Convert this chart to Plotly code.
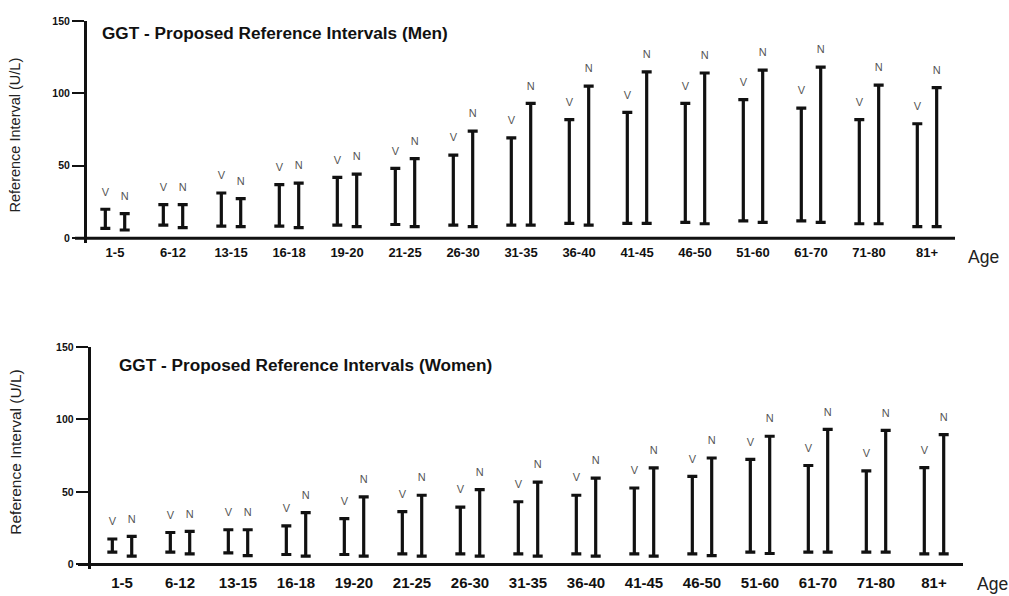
import plotly.graph_objects as go

# Age groups shown on both panels
age_groups = ["1-5", "6-12", "13-15", "16-18", "19-20", "21-25", "26-30", "31-35",
              "36-40", "41-45", "46-50", "51-60", "61-70", "71-80", "81+"]

# Men: reference interval limits (U/L), V and N methods
men_v_low = [6.8, 9.0, 8.4, 8.4, 9.0, 9.5, 9.0, 9.0, 10.2, 10.2, 10.9, 12.0, 12.0, 10.0, 8.0]
men_v_high = [20.0, 23.2, 31.2, 37.0, 42.0, 48.2, 57.3, 69.3, 81.8, 86.8, 93.0, 95.7, 89.8, 81.8, 79.0]
men_n_low = [5.7, 7.3, 8.0, 7.3, 8.0, 8.0, 8.0, 9.0, 9.0, 10.2, 10.0, 10.9, 10.9, 10.0, 8.0]
men_n_high = [17.0, 23.2, 27.3, 38.0, 44.3, 55.0, 73.9, 93.0, 105.0, 114.8, 114.0, 116.0, 118.0, 105.7, 103.9]

# Women: reference interval limits (U/L), V and N methods
women_v_low = [8.4, 8.4, 8.0, 6.8, 6.8, 7.3, 7.3, 7.3, 7.3, 7.3, 7.3, 8.4, 8.4, 8.4, 7.3]
women_v_high = [17.5, 22.0, 23.9, 26.6, 31.6, 36.4, 39.5, 43.2, 47.7, 52.7, 60.7, 72.5, 68.2, 64.5, 66.8]
women_n_low = [5.7, 7.3, 6.1, 5.7, 5.7, 5.7, 5.7, 5.7, 5.7, 5.7, 6.1, 7.5, 8.4, 8.4, 7.3]
women_n_high = [19.3, 22.7, 23.9, 35.7, 46.6, 47.7, 51.6, 56.8, 59.5, 66.6, 73.4, 88.4, 93.2, 92.5, 89.5]

W, H = 1009, 596
FONT = "Liberation Sans, Arial, sans-serif"
OFFSET = 0.167  # horizontal shift of V / N bars within a group

fig = go.Figure()


def px_x(p):
    return p / W


def px_y(p):
    return 1 - p / H


def add_panel(lows_v, highs_v, lows_n, highs_n, xa, ya):
    idx = list(range(len(age_groups)))
    for lows, highs, shift, tag in ((lows_v, highs_v, -OFFSET, "V"), (lows_n, highs_n, OFFSET, "N")):
        xs = [i + shift for i in idx]
        mids = [(lo + hi) / 2 for lo, hi in zip(lows, highs)]
        half = [(hi - lo) / 2 for lo, hi in zip(lows, highs)]
        fig.add_trace(go.Scatter(
            x=xs, y=mids, mode="markers", xaxis=xa, yaxis=ya,
            marker=dict(size=1, color="rgba(0,0,0,0)"),
            error_y=dict(type="data", array=half, symmetric=True,
                         color="#111111", thickness=3.2, width=5),
            showlegend=False, hoverinfo="skip"))
        fig.add_trace(go.Scatter(
            x=xs, y=highs, mode="markers+text", xaxis=xa, yaxis=ya,
            text=[tag] * len(xs), textposition="top center",
            textfont=dict(family=FONT, size=11, color="#555555"),
            marker=dict(size=16, color="rgba(0,0,0,0)"),
            showlegend=False, hoverinfo="skip"))


add_panel(men_v_low, men_v_high, men_n_low, men_n_high, "x", "y")
add_panel(women_v_low, women_v_high, women_n_low, women_n_high, "x2", "y2")

xcommon = dict(tickmode="array", tickvals=list(range(len(age_groups))), ticktext=age_groups,
               showgrid=False, zeroline=False, showline=False, ticks="")
ycommon = dict(tickmode="array", tickvals=[0, 50, 100, 150], showgrid=False, zeroline=False,
               showline=True, linecolor="#111111", linewidth=3,
               ticks="outside", ticklen=12, tickwidth=2, tickcolor="#111111",
               tickfont=dict(family=FONT, size=10.5, color="#111111", weight="bold"))

fig.update_layout(
    width=W, height=H, margin=dict(l=0, r=0, t=0, b=0),
    plot_bgcolor="white", paper_bgcolor="white",
    xaxis=dict(xcommon, domain=[px_x(87), px_x(955)], range=[-0.483, 14.483],
               anchor="y", ticklabelstandoff=0,
               tickfont=dict(family=FONT, size=13, color="#111111", weight="bold")),
    yaxis=dict(ycommon, domain=[px_y(240), px_y(15)], range=[-3.4, 150], anchor="x"),
    xaxis2=dict(xcommon, domain=[px_x(90.7), px_x(963)], range=[-0.54, 14.5],
                anchor="y2", ticklabelstandoff=3,
                tickfont=dict(family=FONT, size=15, color="#111111", weight="bold")),
    yaxis2=dict(ycommon, domain=[px_y(570), px_y(345)], range=[-3.4, 150], anchor="x2"),
)

# Baselines at zero
fig.add_shape(type="line", xref="paper", yref="y", x0=px_x(75), x1=px_x(955), y0=0, y1=0,
              line=dict(color="#111111", width=3))
fig.add_shape(type="line", xref="paper", yref="y2", x0=px_x(78), x1=px_x(963), y0=0, y1=0,
              line=dict(color="#111111", width=3))

# Panel titles, axis titles
ann = [
    dict(text="GGT - Proposed Reference Intervals (Men)", x=px_x(100), y=px_y(27),
         xanchor="left", yanchor="middle", font=dict(family=FONT, size=17.2, color="#111111", weight="bold")),
    dict(text="GGT - Proposed Reference Intervals (Women)", x=px_x(117), y=px_y(363),
         xanchor="left", yanchor="middle", font=dict(family=FONT, size=17.2, color="#111111", weight="bold")),
    dict(text="Reference Interval (U/L)", x=px_x(15), y=px_y(131), textangle=-90,
         xanchor="center", yanchor="middle", font=dict(family=FONT, size=14.5, color="#222222")),
    dict(text="Reference Interval (U/L)", x=px_x(16), y=px_y(452), textangle=-90,
         xanchor="center", yanchor="middle", font=dict(family=FONT, size=15.5, color="#222222")),
    dict(text="Age", x=px_x(966), y=px_y(254), xanchor="left", yanchor="middle",
         font=dict(family=FONT, size=17.5, color="#222222")),
    dict(text="Age", x=px_x(975), y=px_y(585), xanchor="left", yanchor="middle",
         font=dict(family=FONT, size=17.5, color="#222222")),
]
for a in ann:
    a.update(xref="paper", yref="paper", showarrow=False)
fig.update_layout(annotations=ann)

fig.write_html("out.html")
